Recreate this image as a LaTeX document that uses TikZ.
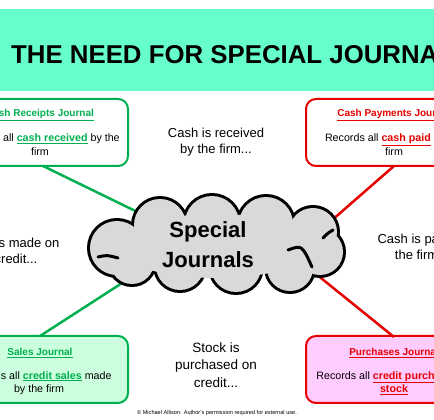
\documentclass[tikz,border=0pt]{standalone}
\usepackage{fontspec}
\setmainfont{Liberation Sans}
\definecolor{band}{RGB}{102,255,204}
\definecolor{grn}{RGB}{0,176,80}
\definecolor{grnfill}{RGB}{204,255,221}
\definecolor{rd}{RGB}{230,0,0}
\definecolor{pinkfill}{RGB}{255,204,255}
\definecolor{cloudgray}{RGB}{217,217,217}
\newcommand\gkey[1]{\textcolor{grn}{\textbf{\underline{#1}}}}
\newcommand\rkey[1]{\textcolor{rd}{\textbf{\underline{#1}}}}
\begin{document}
\begin{tikzpicture}[x=1pt,y=1pt,
  jbox/.style={line width=2pt, rounded corners=10pt, minimum width=176pt, minimum height=67pt, inner sep=0pt},
  gbox/.style={jbox, draw=grn, fill=white},
  gfbox/.style={jbox, draw=grn, fill=grnfill},
  rbox/.style={jbox, draw=rd, fill=white},
  rfbox/.style={jbox, draw=rd, fill=pinkfill},
  jtitle/.style={font=\fontsize{10}{12}\selectfont, inner sep=0pt},
  jbody/.style={font=\fontsize{10.7}{13.5}\selectfont, align=center, inner sep=0pt},
  note/.style={font=\fontsize{13}{16}\selectfont, align=center, inner sep=0pt},
  glink/.style={draw=grn, line width=2.5pt},
  rlink/.style={draw=rd, line width=2.5pt},
  puffline/.style={line width=6pt},
  puff/.style={line width=3pt, line cap=round}
]
\useasboundingbox (0,0) rectangle (434,420);
\clip (0,0) rectangle (434,420);
\fill[white] (0,0) rectangle (434,420);
% title band
\fill[band] (0,329) rectangle (434,411);
\node[anchor=west, font=\fontsize{25.8}{30}\selectfont\bfseries, inner sep=0pt] (title) at (11,365) {THE NEED FOR SPECIAL JOURNALS};
% boxes
\node[gbox] (cr) at (40,287.5) {};
\node[rbox] (cp) at (394,287.5) {};
\node[gfbox] (sj) at (40,50.5) {};
\node[rfbox] (pj) at (394,50.5) {};
% connector endpoints inside the cloud
\coordinate (c1) at (160,197);
\coordinate (c2) at (150,155);
\coordinate (c3) at (315,185);
\coordinate (c4) at (290,167);
\coordinate (a1) at (43,254);
\coordinate (a2) at (40,84);
\coordinate (a3) at (394,254);
\coordinate (a4) at (394,83);
\draw[glink] (a1) -- (c1);
\draw[glink] (a2) -- (c2);
\draw[rlink] (a3) -- (c3);
\draw[rlink] (a4) -- (c4);
% cloud: union of puffs
\def\puffs{117/172/27, 160/195/26, 212/197/27, 266/196/27, 313/188/24, 320/168/23, 290/152/23, 236/153/25, 180/154/24, 132/158/22}
\foreach \x/\y/\r in \puffs { \draw[puffline] (\x,\y) circle[radius=\r]; }
\foreach \x/\y/\r in \puffs { \fill[cloudgray] (\x,\y) circle[radius=\r]; }
\fill[cloudgray] (216,174) ellipse[x radius=100, y radius=32];
\draw[puff] (98,163) .. controls (107,165) .. (118,162);
\draw[puff] (333,190) .. controls (328,187) .. (323,182);
\draw[puff] (288,170) .. controls (302,175) .. (312,153);
\node[font=\fontsize{22}{30}\selectfont\bfseries, align=center, inner sep=0pt] (sjt) at (208,175) {Special\\Journals};
% box texts
\node[jtitle] (crt) at (40,305) {\gkey{Cash Receipts Journal}};
\node[jbody] (crb) at (40,275.5) {Records all \gkey{cash received} by the\\firm};
\node[jtitle] (cpt) at (394,305) {\rkey{Cash Payments Journal}};
\node[jbody] (cpb) at (394,275.5) {Records all \rkey{cash paid} by the\\firm};
\node[jtitle] (sjt2) at (40,67) {\gkey{Sales Journal}};
\node[jbody] (sjb) at (39,37) {Records all \gkey{credit sales} made\\by the firm};
\node[jtitle] (pjt) at (394,67) {\rkey{Purchases Journal}};
\node[jbody] (pjb) at (394,37) {Records all \rkey{credit purchases of}\\\rkey{stock}};
% notes
\node[note] (n1) at (216,278) {Cash is received\\by the firm...};
\node[note] (n2) at (16,169) {Sales made on\\credit...};
\node[note] (n3) at (422,173) {Cash is paid by\\the firm...};
\node[note, font=\fontsize{13.5}{17.5}\selectfont] (n4) at (216,55) {Stock is\\purchased on\\credit...};
\node[font=\fontsize{5.6}{6}\selectfont, inner sep=0pt] (foot) at (217,7) {\textcopyright{} Michael Allison. Author's permission required for external use.};
\end{tikzpicture}
\end{document}
